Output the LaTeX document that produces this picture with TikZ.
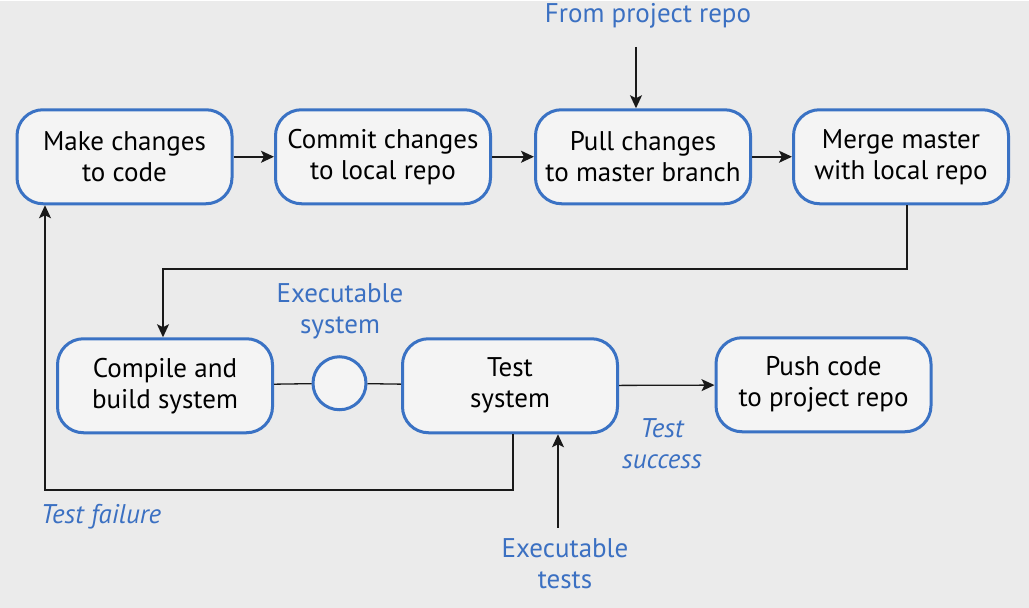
\documentclass[tikz,border=0pt]{standalone}
\usepackage{fontspec}
\setmainfont{PT Sans}
\usetikzlibrary{arrows.meta}
\definecolor{bgray}{HTML}{EBEBEB}
\definecolor{boxfill}{HTML}{F4F4F4}
\definecolor{edgeblue}{HTML}{3A72C4}
\definecolor{labelblue}{HTML}{3B70C2}
\begin{document}
\begin{tikzpicture}[x=1pt, y=-1pt,
    stage/.style={draw=edgeblue, fill=boxfill, line width=3pt, rounded corners=26pt,
        minimum width=215pt, minimum height=94pt, align=center,
        font=\fontsize{27}{31}\selectfont},
    note/.style={text=labelblue, align=center, font=\fontsize{27}{31}\selectfont},
    link/.style={line width=1.6pt, black!90},
    arr/.style={link, -{Stealth[length=13pt, width=12pt, inset=3pt]}}]
    \fill[bgray] (0,0) rectangle (1029,607);

    % top row
    \node[stage] (make)   at (124.5,156) {Make changes\\to code};
    \node[stage] (commit) at (383,156)   {Commit changes\\to local repo};
    \node[stage] (pull)   at (643,156)   {Pull changes\\to master branch};
    \node[stage] (merge)  at (901,156)   {Merge master\\with local repo};

    % bottom row
    \node[stage] (compile) at (165,385) {Compile and\\build system};
    \node[draw=edgeblue, fill=boxfill, line width=3pt, circle, minimum size=53pt,
        inner sep=0pt] (exec) at (339.5,382.5) {};
    \node[stage] (test) at (510,385) {Test\\system};
    \node[stage] (push) at (823.5,384) {Push code\\to project repo};

    % labels
    \node[note] (repo)   at (648,15)  {From project repo};
    \node[note] (execsys) at (340,311) {Executable\\system};
    \node[note, font=\fontsize{27}{31}\selectfont\itshape] (succ) at (662,443) {Test\\success};
    \node[note, font=\fontsize{27}{31}\selectfont\itshape] (fail) at (101,516) {Test failure};
    \node[note] (tests) at (565,563) {Executable\\tests};

    \coordinate (repoin) at (636,46);
    \coordinate (back) at (45,489);
    \coordinate (testin) at (558,527);

    % connectors
    \draw[arr] (make) -- (commit);
    \draw[arr] (commit) -- (pull);
    \draw[arr] (pull) -- (merge);
    \draw[arr] (repoin) -- (repoin |- pull.north);
    \draw[arr] ([xshift=6pt]merge.south) -- ++(0,64) -| ([xshift=-2pt]compile.north);
    \draw[link, line width=1.3pt] (compile) -- (exec);
    \draw[link, line width=1.3pt] (exec) -- (test);
    \draw[arr, line width=1.3pt] (test) -- (push);
    \draw[arr] ([xshift=3pt]test.south) |- (back) -- (back |- make.south);
    \draw[arr, line width=1.2pt] (testin) -- (testin |- test.south);
\end{tikzpicture}
\end{document}
